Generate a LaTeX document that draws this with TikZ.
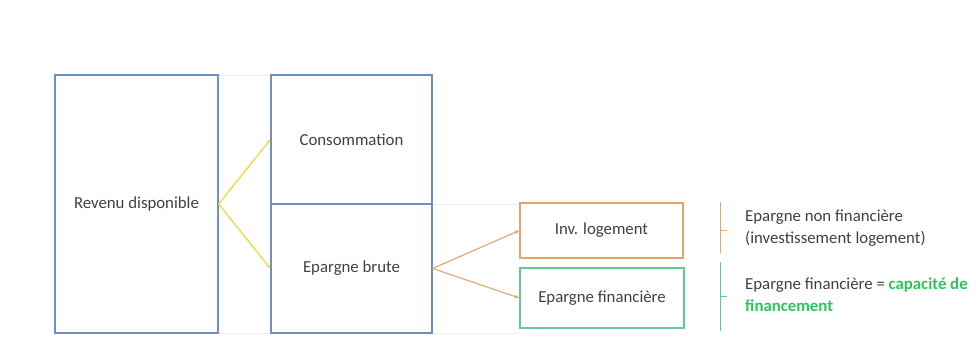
\documentclass[tikz,border=0pt]{standalone}
\usepackage{fontspec}
\setmainfont{Carlito}
\usetikzlibrary{arrows.meta}
\definecolor{boxblue}{HTML}{6F8EC4}
\definecolor{lineyellow}{HTML}{EEDC4A}
\definecolor{lineorange}{HTML}{E0A56A}
\definecolor{boxgreen}{HTML}{5FCB98}
\definecolor{txtgreen}{HTML}{2FC45A}
\definecolor{faint}{HTML}{EEEEEE}
\begin{document}
\begin{tikzpicture}[x=1pt,y=-1pt,
  every node/.style={font=\fontsize{16.8}{19}\selectfont, text=black!75},
  bluebox/.style={draw=boxblue, line width=1.2pt, inner sep=0pt},
  orangebox/.style={draw=lineorange, line width=1.2pt, inner sep=0pt},
  greenbox/.style={draw=boxgreen, line width=1.2pt, inner sep=0pt},
  yarrow/.style={draw=lineyellow, line width=1.4pt, -{Stealth[length=5pt,width=4pt]}},
  oarrow/.style={draw=lineorange, line width=1.1pt, -{Stealth[length=5pt,width=4pt]}},
  brace/.style={line width=0.9pt},
  note/.style={anchor=west, align=left, inner sep=0pt}]
\useasboundingbox (0,0) rectangle (979,356);
% faint guide lines
\draw[faint, line width=0.8pt] (218,75) -- (271,75);
\draw[faint, line width=0.8pt] (218,333) -- (271,333);
\draw[faint, line width=0.8pt] (432,204) -- (520,204);
\draw[faint, line width=0.8pt] (432,333) -- (520,333);
% boxes
\node[bluebox, minimum width=163pt, minimum height=258pt] (rev) at (136.5,204) {Revenu disponible};
\node[bluebox, minimum width=161pt, minimum height=129pt] (cons) at (351.5,139.5) {Consommation};
\node[bluebox, minimum width=161pt, minimum height=129pt] (epb) at (351.5,268.5) {Epargne brute};
\node[orangebox, minimum width=163pt, minimum height=55pt] (inv) at (601.5,230.5) {Inv. logement};
\node[greenbox, minimum width=164pt, minimum height=60pt] (epf) at (602,298) {Epargne financière};
% connectors
\draw[yarrow] (rev.east) -- (cons.west);
\draw[yarrow] (rev.east) -- (epb.west);
\draw[oarrow] (epb.east) -- (inv.west);
\draw[oarrow] (epb.east) -- (epf.west);
% brackets
\coordinate (ob1) at (720,202);
\coordinate (ob2) at (720,253);
\coordinate (obm) at (720,230);
\coordinate (obt) at (727,230);
\draw[brace, lineorange] (ob1) -- (ob2);
\draw[brace, lineorange] (obm) -- (obt);
\coordinate (gb1) at (720,262);
\coordinate (gb2) at (720,331);
\coordinate (gbm) at (720,296);
\coordinate (gbt) at (727,296);
\draw[brace, boxgreen] (gb1) -- (gb2);
\draw[brace, boxgreen] (gbm) -- (gbt);
% notes
\node[note] (n1) at (745,228) {Epargne non financière\\[3pt](investissement logement)};
\node[note] (n2) at (745,295) {Epargne financière = \textcolor{txtgreen}{\textbf{capacité de}}\\[3pt]\textcolor{txtgreen}{\textbf{financement}}};
\end{tikzpicture}
\end{document}
